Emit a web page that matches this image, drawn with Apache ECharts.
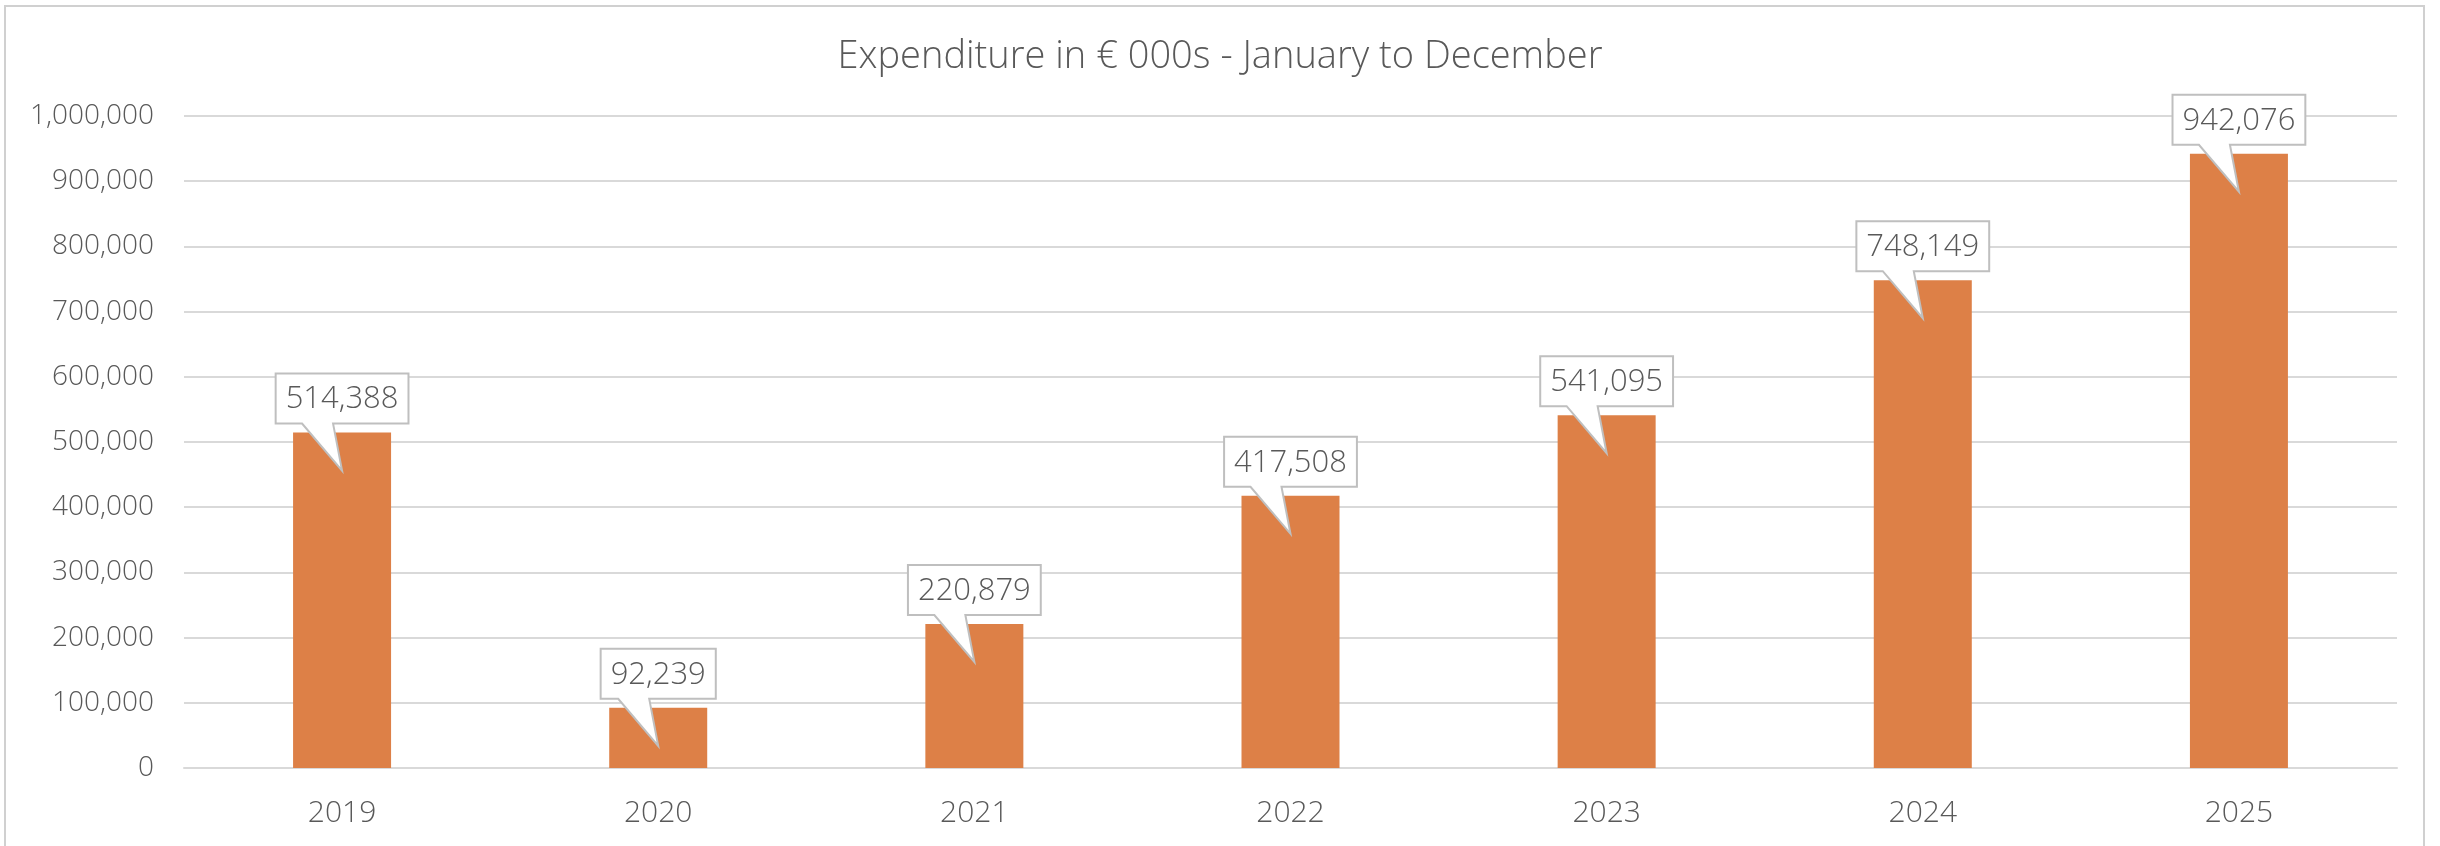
<!DOCTYPE html>
<html>
<head>
<meta charset="utf-8">
<script src="https://cdn.jsdelivr.net/npm/echarts@6/dist/echarts.min.js"></script>
<style>
  html, body { margin: 0; padding: 0; background: #fff; }
  #frame { position: absolute; left: 4px; top: 5px; width: 2421px; height: 860px; border: 2px solid #d0d0d0; box-sizing: border-box; }
  #chart { position: absolute; left: 0; top: 0; width: 2440px; height: 846px; }
</style>
</head>
<body>
<div id="frame"></div>
<div id="chart"></div>
<script>
// data
var years = ['2019', '2020', '2021', '2022', '2023', '2024', '2025'];
var spend = [514388, 92239, 220879, 417508, 541095, 748149, 942076];

var FONT = '"Open Sans", sans-serif';
var TEXT = '#595959';

var ctx = document.createElement('canvas').getContext('2d');
var labelFont = '300 31px "Open Sans"';

function fmt(v) {
  return v.toLocaleString('en-US');
}

// callout box with pointer, like Excel's data callouts
function renderCallout(params, api) {
  var pt = api.coord([api.value(0), api.value(1)]);
  var cx = pt[0], yTop = pt[1];
  var txt = fmt(api.value(1));
  ctx.font = labelFont;
  var w = ctx.measureText(txt).width + 20;
  var L = cx - w / 2, R = cx + w / 2;
  var top = yTop - 59, bot = yTop - 9;
  return {
    type: 'group',
    children: [
      {
        type: 'polygon',
        shape: { points: [[L, top], [R, top], [R, bot], [cx - 9, bot], [cx, yTop + 38], [cx - 40, bot], [L, bot]] },
        style: { fill: '#fff', stroke: '#bfbfbf', lineWidth: 2 }
      },
      {
        type: 'text',
        style: {
          text: txt, x: cx, y: (top + bot) / 2 + 1,
          align: 'center', verticalAlign: 'middle',
          fill: TEXT, font: labelFont
        }
      }
    ]
  };
}

var chart = echarts.init(document.getElementById('chart'));
chart.setOption({
  animation: false,
  title: {
    text: 'Expenditure in € 000s - January to December',
    left: 'center',
    top: 33,
    textStyle: { fontFamily: FONT, fontWeight: 300, fontSize: 38, color: TEXT }
  },
  grid: { left: 184, right: 43, top: 116, bottom: 78 },
  xAxis: {
    type: 'category',
    data: years,
    axisLine: { lineStyle: { color: '#d9d9d9', width: 2 } },
    axisTick: { show: false },
    axisLabel: { fontFamily: FONT, fontWeight: 300, fontSize: 30, color: TEXT, margin: 30 }
  },
  yAxis: {
    type: 'value',
    min: 0,
    max: 1000000,
    interval: 100000,
    axisLine: { show: false },
    axisTick: { show: false },
    splitLine: { lineStyle: { color: '#d9d9d9', width: 2 } },
    axisLabel: {
      fontFamily: FONT, fontWeight: 300, fontSize: 28, color: TEXT, margin: 30,
      formatter: function (v) { return fmt(v); }
    }
  },
  series: [
    {
      type: 'bar',
      data: spend,
      barWidth: '31%',
      itemStyle: { color: '#dd8047' }
    },
    {
      type: 'custom',
      renderItem: renderCallout,
      clip: false,
      z: 10,
      data: spend.map(function (v, i) { return [i, v]; })
    }
  ]
});
</script>
</body>
</html>
